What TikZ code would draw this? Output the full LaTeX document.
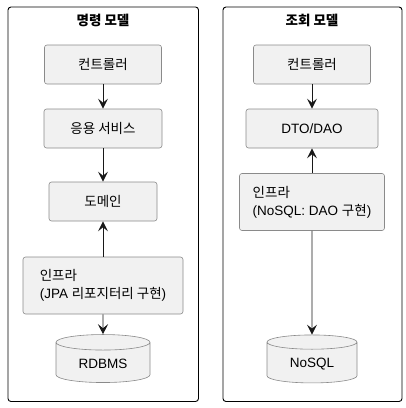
\documentclass[tikz,border=0pt]{standalone}
\usepackage{fontspec}
\setmainfont{Liberation Sans}
\newfontfamily\kr{Noto Sans CJK KR}
\usetikzlibrary{arrows.meta,shapes.geometric}

\definecolor{boxfill}{HTML}{F1F1F1}
\definecolor{boxline}{HTML}{8A8A8A}
\definecolor{arrowc}{HTML}{181818}

\tikzset{
  box/.style={draw=boxline, fill=boxfill, rounded corners=2.5pt, line width=0.6pt,
    minimum height=39pt, inner xsep=10pt, font=\fontsize{13.5}{18}\selectfont},
  infra/.style={box, align=left, minimum height=57pt},
  db/.style={cylinder, shape border rotate=90, draw=boxline, fill=boxfill, line width=0.6pt,
    aspect=0.28, font=\fontsize{13.5}{18}\selectfont},
  frame/.style={draw=black, rounded corners=3pt, line width=0.9pt},
  title/.style={font=\kr\bfseries\fontsize{13.5}{16}\selectfont},
  flow/.style={draw=arrowc, line width=0.9pt, -{Stealth[length=10pt,width=10pt,inset=4pt]}},
}

\begin{document}
\begin{tikzpicture}[x=1pt, y=-1pt]
  \useasboundingbox (0,0) rectangle (406,408);

  % command side
  \draw[frame] (8,7) rectangle (198.5,401.5);
  \node[title] (cmdtitle) at (103,20) {명령 모델};
  \node[box, minimum width=117pt] (cmdctl) at (103,64.5) {\kr 컨트롤러};
  \node[box, minimum width=118pt] (cmdsvc) at (103,128.5) {\kr 응용 서비스};
  \node[box, minimum width=108pt] (cmddom) at (103,201.5) {\kr 도메인};
  \node[infra, minimum width=160pt] (cmdinfra) at (103,285.5)
    {{\kr 인프라}\\(JPA {\kr 리포지터리 구현})};
  \node[db, minimum width=94pt, minimum height=48pt] (cmddb) at (103,364) {RDBMS};

  \draw[flow] (cmdctl) -- (cmdsvc);
  \draw[flow] (cmdsvc) -- (cmddom);
  \draw[flow] (cmdinfra) -- (cmddom);
  \draw[flow] (cmdinfra) -- (cmddb);

  % query side
  \draw[frame] (223,7) rectangle (402,401.5);
  \node[title] (qrytitle) at (312,20) {조회 모델};
  \node[box, minimum width=117pt] (qryctl) at (312,64.5) {\kr 컨트롤러};
  \node[box, minimum width=132pt] (qrydto) at (312,128.5) {DTO/DAO};
  \node[infra, minimum width=145pt] (qryinfra) at (312,202)
    {{\kr 인프라}\\(NoSQL: DAO {\kr 구현})};
  \node[db, minimum width=90pt, minimum height=48pt] (qrydb) at (312,364) {NoSQL};

  \draw[flow] (qryctl) -- (qrydto);
  \draw[flow] (qryinfra) -- (qrydto);
  \draw[flow] (qryinfra) -- (qrydb);
\end{tikzpicture}
\end{document}
